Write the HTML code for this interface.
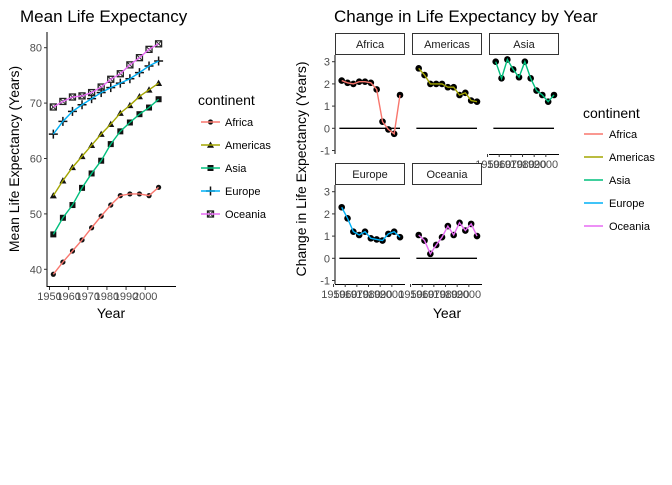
<!DOCTYPE html>
<html><head><meta charset="utf-8"><style>
body{margin:0;background:#fff;}
svg text{font-family:"Liberation Sans",sans-serif;}
</style></head><body>
<svg id="s" width="672" height="480" xmlns="http://www.w3.org/2000/svg"></svg>
<script>
const years=[1952,1957,1962,1967,1972,1977,1982,1987,1992,1997,2002,2007];
const diffYears=[1957,1962,1967,1972,1977,1982,1987,1992,1997,2002,2007];
const continents=["Africa","Americas","Asia","Europe","Oceania"];
const colors=["#F8766D","#A3A500","#00BF7D","#00B0F6","#E76BF3"];
const lifeAfrica=[39.1,41.3,43.3,45.3,47.5,49.6,51.6,53.3,53.6,53.6,53.3,54.8];
const lifeAmericas=[53.3,56.0,58.4,60.4,62.4,64.4,66.2,68.2,69.6,71.2,72.4,73.6];
const lifeAsia=[46.3,49.3,51.6,54.7,57.3,59.6,62.6,64.9,66.5,68.0,69.2,70.7];
const lifeEurope=[64.4,66.7,68.5,69.7,70.8,71.9,72.8,73.6,74.4,75.5,76.7,77.6];
const lifeOceania=[69.3,70.3,71.1,71.3,71.9,72.9,74.3,75.3,76.9,78.2,79.7,80.7];
const diffAfrica=[2.15,2.05,2.0,2.1,2.1,2.05,1.75,0.3,-0.05,-0.25,1.5];
const diffAmericas=[2.7,2.4,2.0,2.0,2.0,1.85,1.85,1.5,1.6,1.25,1.2];
const diffAsia=[3.0,2.25,3.1,2.65,2.3,3.0,2.25,1.7,1.5,1.2,1.5];
const diffEurope=[2.3,1.8,1.2,1.05,1.2,0.9,0.85,0.8,1.1,1.2,0.95];
const diffOceania=[1.05,0.8,0.2,0.6,0.95,1.45,1.05,1.6,1.25,1.55,1.0];
const leftYTicks=[40,50,60,70,80];
const xTicks=[1950,1960,1970,1980,1990,2000];
const rightYTicks=[-1,0,1,2,3];

const S=document.getElementById('s');
const NS="http://www.w3.org/2000/svg";
function el(tag,at,parent){const e=document.createElementNS(NS,tag);for(const k in at)e.setAttribute(k,at[k]);(parent||S).appendChild(e);return e;}
function txt(x,y,t,size,anchor,parent,fill){const e=el('text',{x:x,y:y,'font-size':size,'text-anchor':anchor||'start',fill:fill||'#000'},parent);e.textContent=t;return e;}

// ---- Left chart ----
const lx=y=>49.5+(y-1950)*1.914;
const ly=v=>269.3-(v-40)*5.54;
const left=el('g',{});


let t=txt(20,22,"Mean Life Expectancy",17,'start',left);

el('line',{x1:47,y1:32,x2:47,y2:287,stroke:'#000','stroke-width':1},left);
el('line',{x1:47,y1:286.5,x2:176,y2:286.5,stroke:'#000','stroke-width':1},left);
leftYTicks.forEach(v=>{el('line',{x1:44,x2:47,y1:ly(v),y2:ly(v),stroke:'#333'},left);
 const e=txt(42,ly(v)+4,String(v),11,'end',left,'#4d4d4d');});
xTicks.forEach(v=>{el('line',{x1:lx(v),x2:lx(v),y1:287,y2:290,stroke:'#333'},left);
 const e=txt(lx(v),300,String(v),11,'middle',left,'#4d4d4d');});
t=txt(111,318,"Year",14,'middle',left);
t=txt(0,0,"Mean Life Expectancy (Years)",14,'middle',left);t.setAttribute('transform','translate(19,159) rotate(-90)');

const lifeSeries=[lifeAfrica,lifeAmericas,lifeAsia,lifeEurope,lifeOceania];
function marker(shape,x,y,g){
 if(shape===0) el('circle',{cx:x,cy:y,r:2.6,fill:'#111'},g);
 else if(shape===1) el('polygon',{points:`${x},${y-3.5} ${x-3.5},${y+2.8} ${x+3.5},${y+2.8}`,fill:'#111'},g);
 else if(shape===2) el('rect',{x:x-3,y:y-3,width:6,height:6,fill:'#111'},g);
 else if(shape===3){el('line',{x1:x-4.5,x2:x+4.5,y1:y,y2:y,stroke:'#111','stroke-width':1.5},g);el('line',{x1:x,x2:x,y1:y-4.5,y2:y+4.5,stroke:'#111','stroke-width':1.5},g);}
 else {el('rect',{x:x-3,y:y-3,width:6,height:6,fill:'none',stroke:'#222','stroke-width':1.3},g);el('line',{x1:x-3,x2:x+3,y1:y-3,y2:y+3,stroke:'#222'},g);el('line',{x1:x-3,x2:x+3,y1:y+3,y2:y-3,stroke:'#222'},g);}
}
lifeSeries.forEach((arr,i)=>{
 const g=el('g',{},left);
 
 
 arr.forEach((v,j)=>marker(i,lx(years[j]),ly(v),g));
 el('polyline',{points:arr.map((v,j)=>lx(years[j])+','+ly(v)).join(' '),fill:'none',stroke:colors[i],'stroke-width':1.4},g);
});
t=txt(198,105,"continent",14,'start',left);
continents.forEach((c,i)=>{const y=122+i*23;const g=el('g',{},left);
 
 marker(i,210.5,y,g);el('line',{x1:201,x2:220,y1:y,y2:y,stroke:colors[i],'stroke-width':1.4},g);txt(225,y+4,c,11,'start',g);});

// ---- Right facets ----
const right=el('g',{});


t=txt(334,22,"Change in Life Expectancy by Year",17,'start',right);
t=txt(0,0,"Change in Life Expectancy (Years)",14,'middle',right);t.setAttribute('transform','translate(306,169) rotate(-90)');

t=txt(447,318,"Year",14,'middle',right);
const diffSeries=[diffAfrica,diffAmericas,diffAsia,diffEurope,diffOceania];
const panels=[[335,33],[412,33],[489,33],[335,163],[412,163]];
panels.forEach((p,i)=>{
 const [px,sy]=p;const w=70;const top=sy+22;const y0=top+6.7+3*22.2;
 const fy=v=>y0-v*22.2;const fx=yr=>px+6.7+(yr-1957)*1.166;
 const g=el('g',{},right);
 
 
 el('rect',{x:px+0.5,y:sy+0.5,width:w-1,height:21,fill:'#fff',stroke:'#333','stroke-width':1},g);
 txt(px+w/2,sy+15,continents[i],11,'middle',g,'#1a1a1a');
 const bottom=top+99;
 if(i===0||i===3){el('line',{x1:px,x2:px,y1:top,y2:bottom,stroke:'#000'},g);
  rightYTicks.forEach(v=>{el('line',{x1:px-3,x2:px,y1:fy(v),y2:fy(v),stroke:'#333'},g);txt(px-5,fy(v)+4,String(v),11,'end',g,'#4d4d4d');});}
 if(i>=2){el('line',{x1:px,x2:px+w,y1:bottom+0.5,y2:bottom+0.5,stroke:'#000'},g);
  xTicks.forEach(v=>{el('line',{x1:fx(v),x2:fx(v),y1:bottom,y2:bottom+3,stroke:'#333'},g);txt(fx(v),bottom+14,String(v),11,'middle',g,'#4d4d4d');});}
 el('line',{x1:fx(1955),x2:fx(2007),y1:fy(0),y2:fy(0),stroke:'#000','stroke-width':1.3},g);
 const arr=diffSeries[i];
 arr.forEach((v,j)=>el('circle',{cx:fx(diffYears[j]),cy:fy(v),r:3.3,fill:'#000'},g));
 el('polyline',{points:arr.map((v,j)=>fx(diffYears[j])+','+fy(v)).join(' '),fill:'none',stroke:colors[i],'stroke-width':1.4},g);
});
t=txt(583,118,"continent",14,'start',right);
continents.forEach((c,i)=>{const y=134+i*23;const g=el('g',{},right);
 
 el('line',{x1:584,x2:603,y1:y,y2:y,stroke:colors[i],'stroke-width':1.4},g);txt(609,y+4,c,11,'start',g);});
</script>
</body></html>
